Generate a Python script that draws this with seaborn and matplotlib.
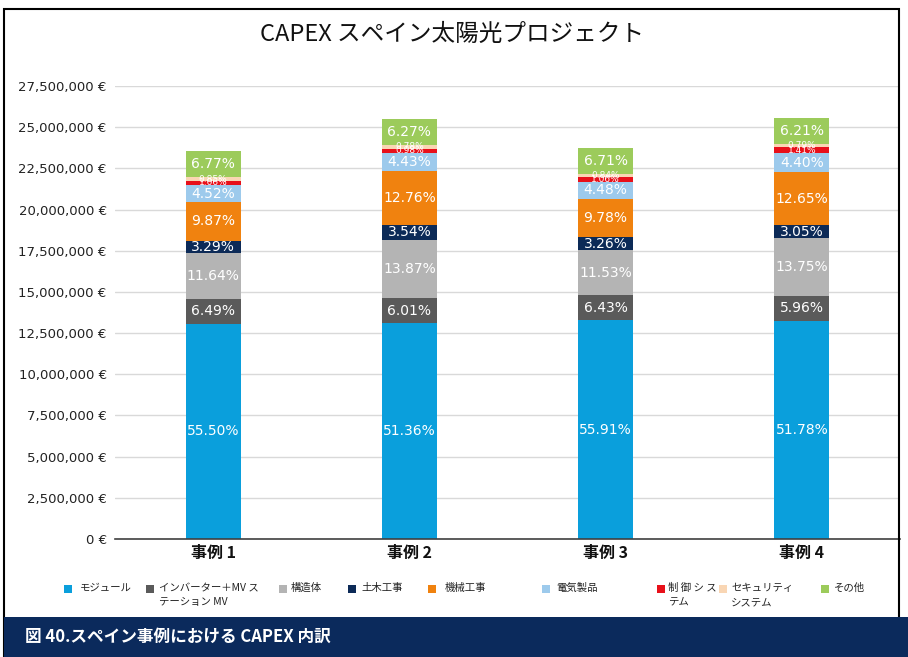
import numpy as np
import pandas as pd
import matplotlib
matplotlib.use("Agg")
import matplotlib.pyplot as plt
import seaborn as sns
from matplotlib.patches import Rectangle
from matplotlib.ticker import FuncFormatter

# ---- data ----
cases = ["事例 1", "事例 2", "事例 3", "事例 4"]
totals = [23_550_000, 25_500_000, 23_740_000, 25_560_000]   # total CAPEX per case (€)

components = ["モジュール", "インバーター＋MV ステーション MV", "構造体", "土木工事",
              "機械工事", "電気製品", "制御システム", "セキュリティシステム", "その他"]
legend_labels = ["モジュール", "インバーター＋MV ス\nテーション MV", "構造体", "土木工事",
                 "機械工事", "電気製品", "制 御 シ ス\nテム", "セキュリティ\nシステム", "その他"]

# share of total (%) per component, one entry per case
pct_module     = [55.50, 51.36, 55.91, 51.78]
pct_inverter   = [6.49, 6.01, 6.43, 5.96]
pct_structure  = [11.64, 13.87, 11.53, 13.75]
pct_civil      = [3.29, 3.54, 3.26, 3.05]
pct_mechanical = [9.87, 12.76, 9.78, 12.65]
pct_electrical = [4.52, 4.43, 4.48, 4.40]
pct_control    = [1.06, 0.98, 1.06, 1.41]
pct_security   = [0.85, 0.78, 0.84, 0.79]
pct_other      = [6.77, 6.27, 6.71, 6.21]

pct_table = [pct_module, pct_inverter, pct_structure, pct_civil, pct_mechanical,
             pct_electrical, pct_control, pct_security, pct_other]

colors = ["#0a9fdc", "#5a5a5a", "#b4b4b4", "#0c2a57", "#f0820f",
          "#9dcaec", "#e8101a", "#f9d6b4", "#9ccb5b"]

pct_arr = np.array(pct_table)                       # (component, case)
values = pct_arr / 100.0 * np.array(totals)[None, :]
cum = np.cumsum(values, axis=0)

# ---- figure ----
W, H = 908, 657
fig = plt.figure(figsize=(W / 100, H / 100), dpi=100)
sns.set_style("white")
plt.rcParams["font.family"] = ["Noto Sans CJK JP", "DejaVu Sans"]

def fx(px):
    return px / W

def fy(py):
    return 1 - py / H

ax = fig.add_axes([fx(115), fy(539), fx(900) - fx(115), fy(86) - fy(539)])

# stacked bars: draw the running totals from the top component down
for i in range(len(components) - 1, -1, -1):
    df = pd.DataFrame({"case": cases, "value": cum[i]})
    sns.barplot(data=df, x="case", y="value", color=colors[i], width=0.28,
                saturation=1, ax=ax, zorder=2, linewidth=0)

# percentage labels centred in each segment
for i in range(len(components)):
    for j in range(len(cases)):
        mid = cum[i, j] - values[i, j] / 2
        small = pct_arr[i, j] < 2
        ax.text(j, mid, f"{pct_arr[i, j]:.2f}%", ha="center", va="center",
                color="white", fontsize=6.5 if small else 10,
                family="DejaVu Sans", zorder=3)

ax.set_ylim(0, 27_500_000)
ax.set_xlim(-0.5, 3.5)
ax.set_yticks(np.arange(0, 27_500_001, 2_500_000))
ax.yaxis.set_major_formatter(FuncFormatter(lambda v, p: f"{int(v):,} €"))
ax.grid(axis="y", color="#d9d9d9", linewidth=1, zorder=0)
ax.set_axisbelow(True)
for s in ["top", "right", "left"]:
    ax.spines[s].set_visible(False)
ax.spines["bottom"].set_color("#404040")
ax.spines["bottom"].set_linewidth(1.2)
ax.tick_params(axis="y", length=0, pad=6, labelsize=9.5, labelcolor="#222222")
ax.tick_params(axis="x", length=0, pad=4, labelsize=11.5, labelcolor="#111111")
for t in ax.get_yticklabels():
    t.set_family("DejaVu Sans")
for t in ax.get_xticklabels():
    t.set_fontweight("bold")
ax.set_xlabel("")
ax.set_ylabel("")
ax.patch.set_alpha(0)

# title
fig.text(fx(452), fy(34), "CAPEX スペイン太陽光プロジェクト", ha="center", va="center",
         fontsize=17, color="#111111")

# legend
legend_pos = [(68, 80), (150, 159), (283, 291), (352, 361), (432, 445),
              (546, 556), (661, 668), (723, 731), (825, 834)]
for (sq, tx), lab, c in zip(legend_pos, legend_labels, colors):
    fig.patches.append(Rectangle((fx(sq - 4), fy(593)), fx(8), 8 / H, transform=fig.transFigure,
                                 facecolor=c, edgecolor="none"))
    fig.text(fx(tx), fy(583), lab, ha="left", va="top", fontsize=7.5,
             color="#222222", linespacing=1.5)

# outer frame
fig.patches.append(Rectangle((fx(4), 0), fx(899) - fx(4), fy(9), transform=fig.transFigure,
                             facecolor="none", edgecolor="black", linewidth=1.5))

# caption band
fig.patches.append(Rectangle((fx(4), 0), 1 - fx(4), fy(617), transform=fig.transFigure,
                             facecolor="#0b2a5c", edgecolor="none"))
fig.text(fx(25), fy(637), "図 40.スペイン事例における CAPEX 内訳", ha="left", va="center",
         fontsize=12, fontweight="bold", color="white")

fig.savefig("out.png", dpi=100)
